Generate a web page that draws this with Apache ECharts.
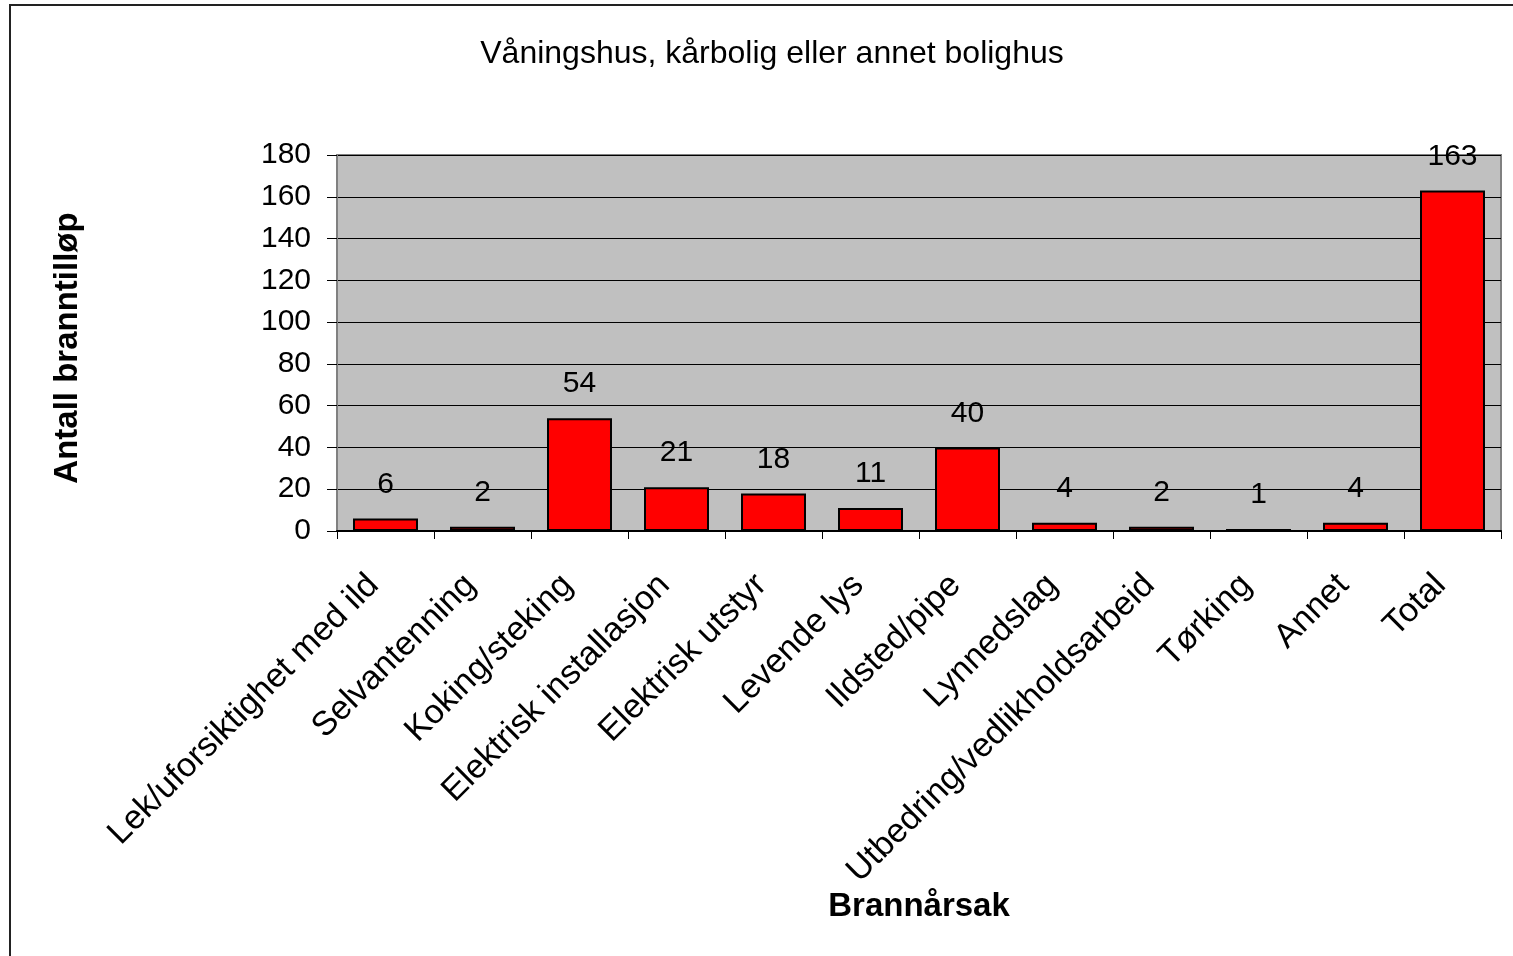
<!DOCTYPE html>
<html>
<head>
<meta charset="utf-8">
<title>Våningshus, kårbolig eller annet bolighus</title>
<script src="https://cdn.jsdelivr.net/npm/echarts@6/dist/echarts.min.js"></script>
<style>
html, body {margin: 0; padding: 0; background: #fff;}
#chart {width: 1513px; height: 956px;}
</style>
</head>
<body>
<div id="chart"></div>
<script>
var chartTitle = 'Våningshus, kårbolig eller annet bolighus';
var xName      = 'Brannårsak';
var yName      = 'Antall branntilløp';
var categories = ['Lek/uforsiktighet med ild', 'Selvantenning', 'Koking/steking', 'Elektrisk installasjon', 'Elektrisk utstyr', 'Levende lys', 'Ildsted/pipe', 'Lynnedslag', 'Utbedring/vedlikholdsarbeid', 'Tørking', 'Annet', 'Total'];
var counts     = [6, 2, 54, 21, 18, 11, 40, 4, 2, 1, 4, 163];
var yTicks     = [0, 20, 40, 60, 80, 100, 120, 140, 160, 180];

/**
 * Draw cause bar chart.
 *
 * @param  string $id
 * @access public
 * @return object
 */
function drawCauseBarChart(id)
{
    var fontFamily = '"Liberation Sans", Arial, sans-serif';
    var nameStyle  = {color: '#000', fontSize: 33, fontWeight: 'bold', fontFamily: fontFamily};

    var chart  = echarts.init(document.getElementById(id));
    var option = {
        animation: false,
        backgroundColor: '#fff',
        title: {
            text: chartTitle,
            left: 767,
            top: 33,
            textAlign: 'center',
            textStyle: {color: '#000', fontSize: 32, fontWeight: 'normal', fontFamily: fontFamily}
        },
        /* Outer frame of the chart area. */
        graphic: [{
            type: 'rect',
            shape: {x: 10, y: 5, width: 1700, height: 1200},
            style: {fill: 'none', stroke: '#222', lineWidth: 2},
            silent: true
        }],
        grid: {
            left: 337,
            right: 12,
            top: 155,
            bottom: 425,
            show: true,
            backgroundColor: '#c0c0c0',
            borderColor: '#808080',
            borderWidth: 2,
            outerBoundsMode: 'none'
        },
        xAxis: {
            type: 'category',
            data: categories,
            name: xName,
            nameLocation: 'middle',
            nameGap: 359,
            nameMoveOverlap: false,
            nameTextStyle: nameStyle,
            axisLine: {show: true, lineStyle: {color: '#000', width: 2}},
            axisTick: {show: true, alignWithLabel: false, length: 8, lineStyle: {color: '#000', width: 1}},
            axisLabel: {rotate: 45, interval: 0, margin: 61, verticalAlign: 'bottom', color: '#000', fontSize: 34, fontFamily: fontFamily},
            splitLine: {show: false}
        },
        yAxis: {
            type: 'value',
            min: yTicks[0],
            max: yTicks[yTicks.length - 1],
            interval: yTicks[1] - yTicks[0],
            name: yName,
            nameLocation: 'middle',
            nameGap: 253,
            nameRotate: 90,
            nameTextStyle: {color: '#000', fontSize: 33, fontWeight: 'bold', fontFamily: fontFamily, padding: [0, 10, 0, 0]},
            axisLine: {show: true, lineStyle: {color: '#808080', width: 2}},
            axisTick: {show: true, length: 10, lineStyle: {color: '#000', width: 1}},
            axisLabel: {margin: 26, color: '#000', fontSize: 30, fontFamily: fontFamily},
            splitLine: {show: true, lineStyle: {color: '#000', width: 1}}
        },
        series: [{
            type: 'bar',
            data: counts,
            barWidth: '67%',
            itemStyle: {color: '#ff0000', borderColor: '#000', borderWidth: 2},
            label: {
                show: true,
                position: 'top',
                distance: 19,
                color: '#000',
                fontSize: 30,
                fontFamily: fontFamily
            }
        }]
    };
    chart.setOption(option);

    return chart;
}

drawCauseBarChart('chart');
</script>
</body>
</html>
